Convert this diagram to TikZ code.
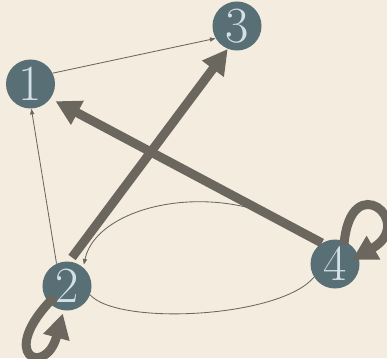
\documentclass[tikz,border=0pt]{standalone}
\usetikzlibrary{arrows.meta}
\definecolor{paper}{HTML}{F4ECDF}
\definecolor{slate}{HTML}{587075}
\definecolor{mist}{HTML}{D3E0E7}
\definecolor{edgegrey}{HTML}{6B675E}
\begin{document}
\begin{tikzpicture}[x=0.025cm, y=0.025cm,
    vtx/.style={circle, fill=slate, text=mist, minimum size=1.225cm, inner sep=0pt, font=\fontsize{36}{36}\selectfont},
    lite/.style={draw=edgegrey, line width=0.6pt, -{Triangle[length=4pt,width=3pt]}},
    heavy/.style={draw=edgegrey, line width=0.225cm, -{Triangle[length=0.62cm,width=0.64cm]}}]
    \fill[paper] (0,0) rectangle (387,358);
    \useasboundingbox (0,0) rectangle (387,358);
    \node[vtx] (n1) at (30.5,274) {1};
    \node[vtx] (n3) at (237,332) {3};
    \node[vtx] (n2) at (67,72) {2};
    \node[vtx] (n4) at (335,94) {4};
    \coordinate (t4) at (352,98);
    % thin edges
    \draw[lite] (n1.26) -- (n3.210); \draw[lite] (n2.115) -- (n1.272);
    \draw[lite, shorten >=0.07cm] (n4.125) .. controls +(140:110) and +(78:68) .. (n2.49);
    \draw[lite, -] (n2.339) .. controls (118,32) and (280,40) .. (n4.212);
    % heavy edges and loops
    \draw[heavy, shorten <=0.12cm] (n2.85) -- (n3.248);
    \draw[heavy, shorten >=0.14cm] (n4.122) -- (n1.324);
    \draw[heavy, shorten <=-0.2cm, shorten >=0.075cm] (n2.222) .. controls +(225:75) and +(255:70) .. (n2.262);
    \draw[heavy, shorten <=-0.08cm] (n4.68) .. controls +(85:75) and +(30:75) .. (t4);
\end{tikzpicture}
\end{document}
